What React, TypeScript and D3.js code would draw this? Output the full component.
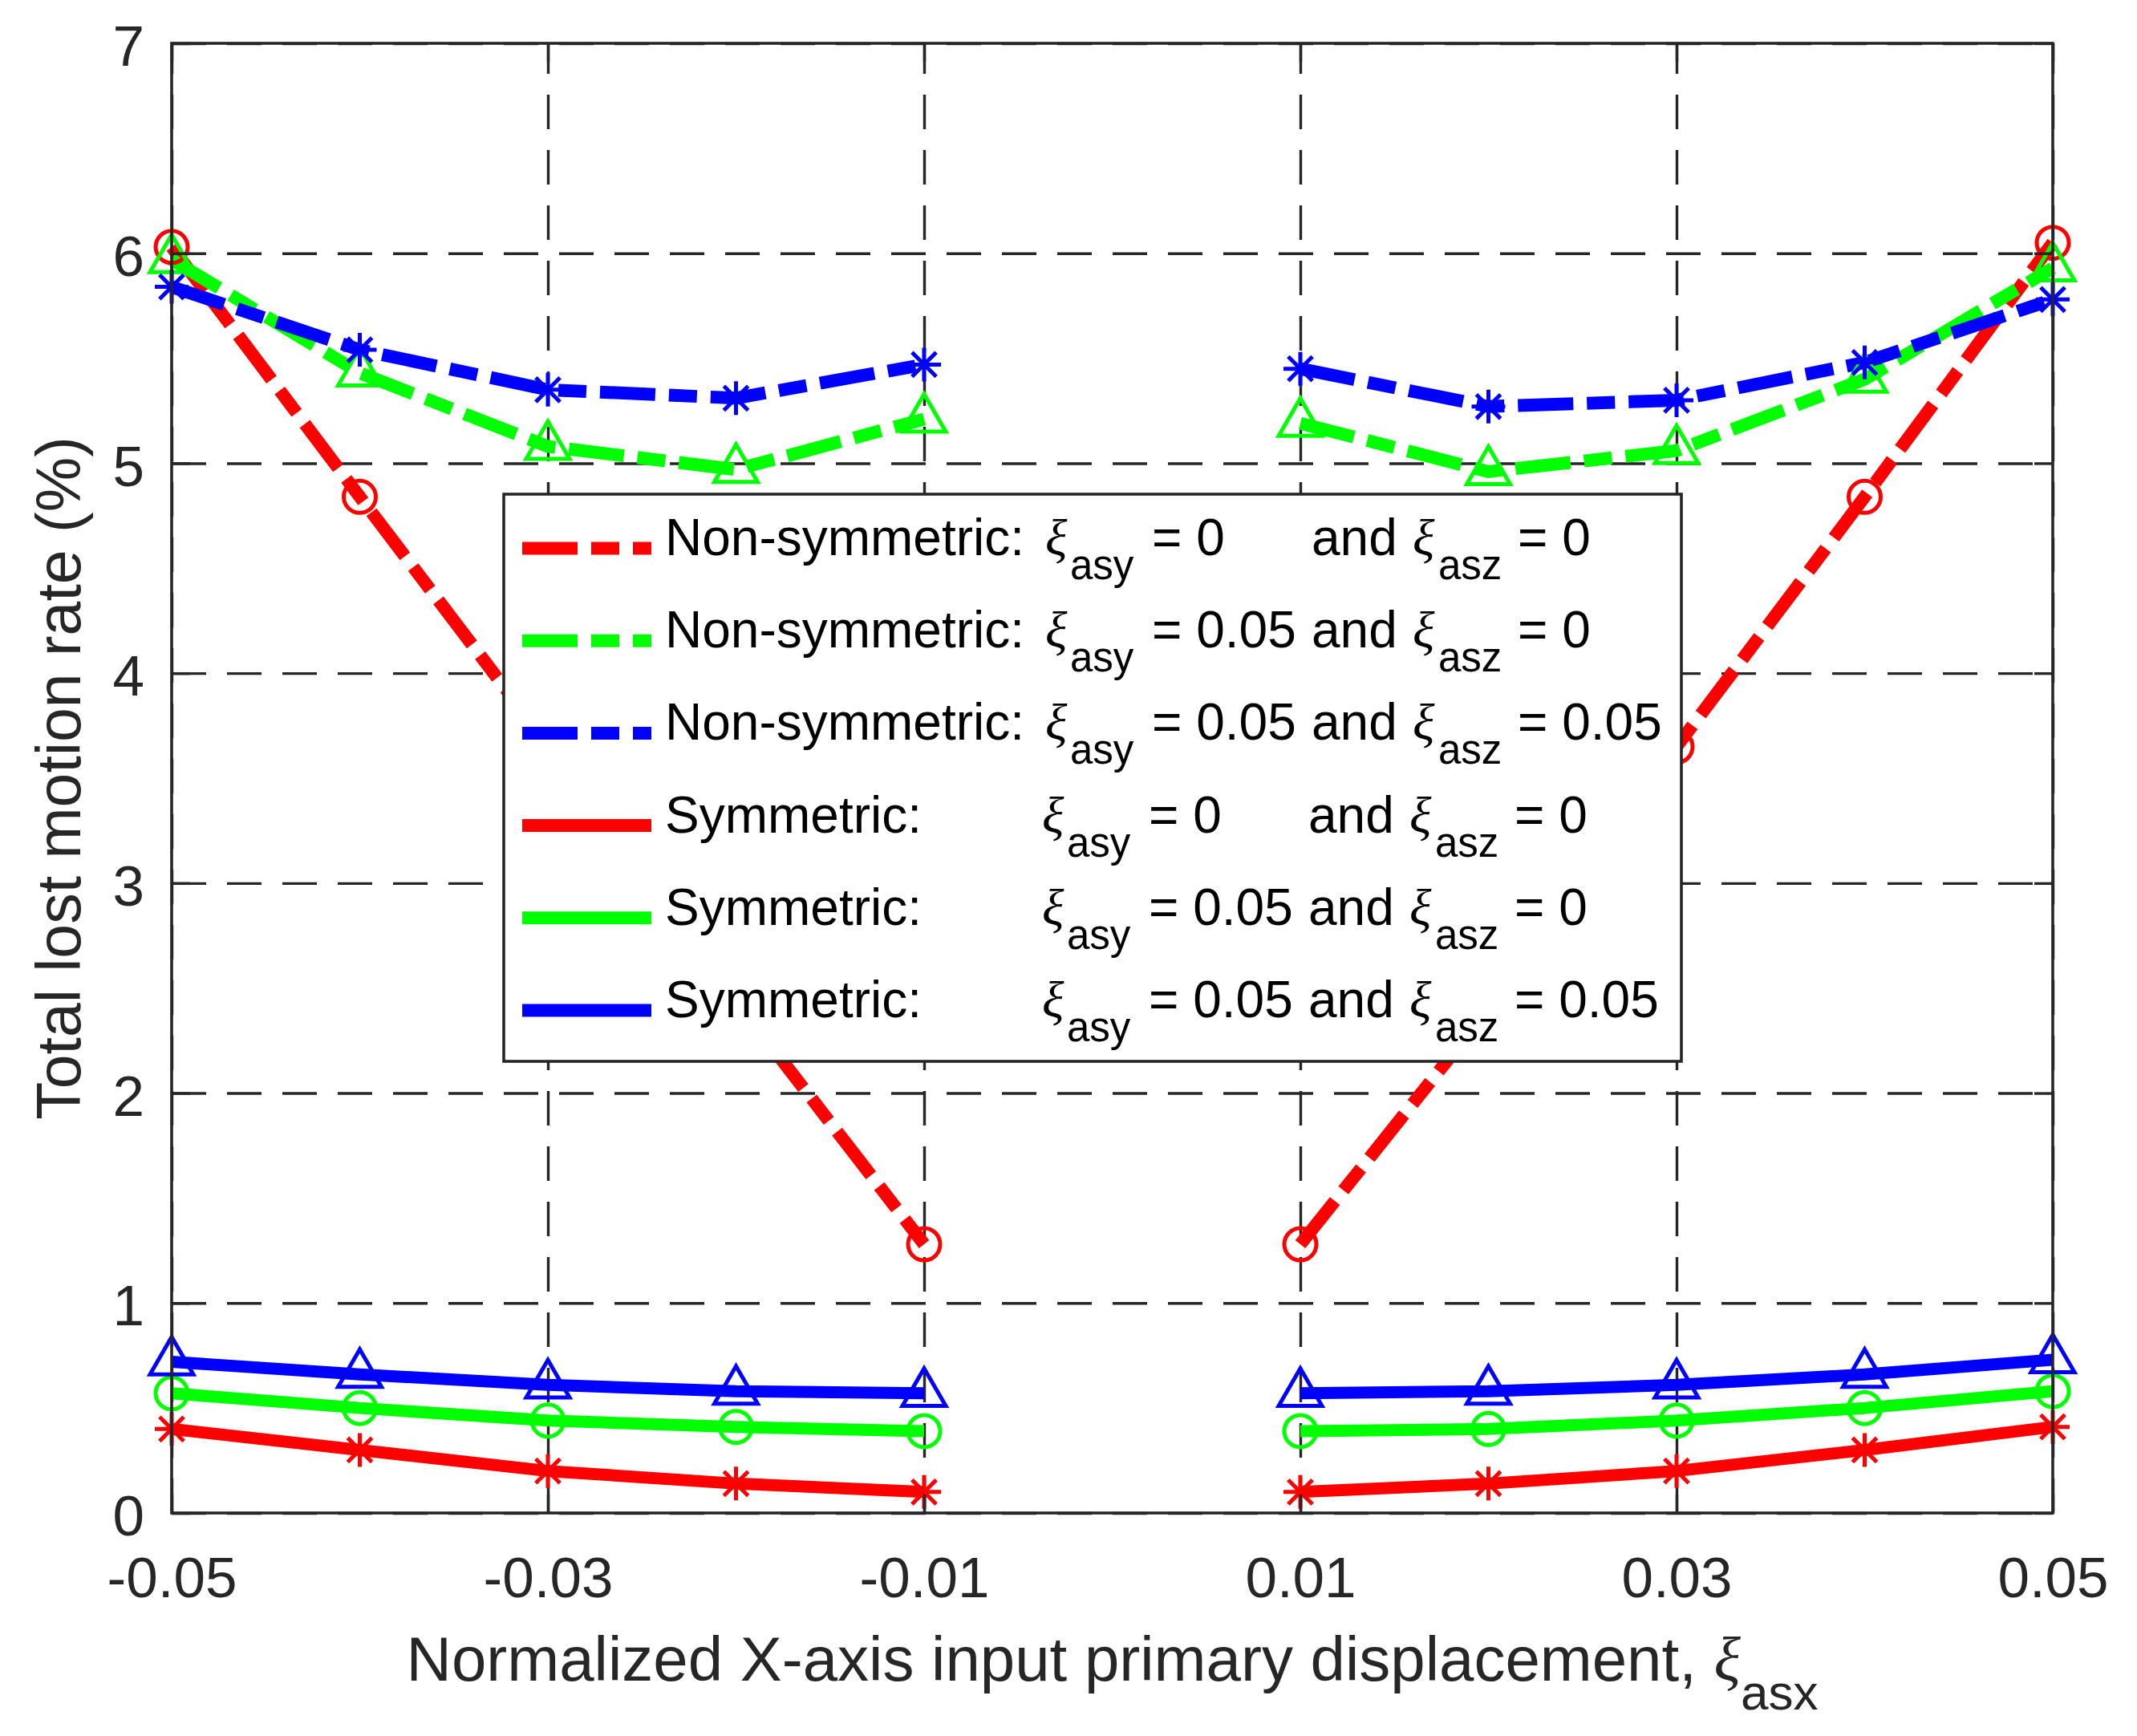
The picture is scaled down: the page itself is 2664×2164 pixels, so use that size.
import * as d3 from "d3";
import { useEffect, useRef } from "react";

// ---- data ----
const xValues = [-0.05, -0.04, -0.03, -0.02, -0.01, 0.01, 0.02, 0.03, 0.04, 0.05];
const xTicks = [-0.05, -0.03, -0.01, 0.01, 0.03, 0.05];
const yTicks = [0, 1, 2, 3, 4, 5, 6, 7];

const nonSymRed = [6.03, 4.84, 3.66, 2.44, 1.28, 1.28, 2.4, 3.65, 4.84, 6.05];
const nonSymGreen = [5.97, 5.43, 5.08, 4.97, 5.21, 5.19, 4.96, 5.06, 5.4, 5.93];
const nonSymBlue = [5.84, 5.54, 5.35, 5.31, 5.47, 5.45, 5.27, 5.3, 5.48, 5.78];
const symRed = [0.4, 0.3, 0.2, 0.14, 0.1, 0.1, 0.14, 0.2, 0.3, 0.41];
const symGreen = [0.57, 0.5, 0.44, 0.41, 0.39, 0.39, 0.4, 0.44, 0.5, 0.58];
const symBlue = [0.72, 0.66, 0.61, 0.58, 0.57, 0.57, 0.58, 0.61, 0.66, 0.73];

const legendPrefixes = ["Non-symmetric:", "Non-symmetric:", "Non-symmetric:", "Symmetric:", "Symmetric:", "Symmetric:"];
const asyValues = ["0", "0.05", "0.05", "0", "0.05", "0.05"];
const aszValues = ["0", "0", "0.05", "0", "0", "0.05"];

const yLabel = "Total lost motion rate (%)";
const xLabel = "Normalized X-axis input primary displacement, ";

// styles per series (same order as legend)
const seriesStyle = [
  { values: nonSymRed, color: "#ff0000", dashed: true, marker: "circle" },
  { values: nonSymGreen, color: "#00ff00", dashed: true, marker: "triangle" },
  { values: nonSymBlue, color: "#0000ff", dashed: true, marker: "star" },
  { values: symRed, color: "#ff0000", dashed: false, marker: "star" },
  { values: symGreen, color: "#00ff00", dashed: false, marker: "circle" },
  { values: symBlue, color: "#0000ff", dashed: false, marker: "triangle" },
];

const SANS = "'Liberation Sans', Arial, Helvetica, sans-serif";
const SERIF = "'Liberation Serif', 'Times New Roman', serif";
const AX = "#262626";
const DASH = "69 17 35 17";

export default function App() {
  const svgRef = useRef<SVGSVGElement | null>(null);
  useEffect(() => {
    if (!svgRef.current) return;
    drawChart(svgRef.current);
  }, []);
  return (
    <div style={{ position: "absolute", left: 0, top: 0 }}>
      <svg ref={svgRef} width={2664} height={2164} style={{ display: "block" }} />
    </div>
  );
}

function drawChart(svgElement: SVGSVGElement) {
  const svg = d3.select(svgElement);
  svg.selectAll("*").remove();

  const W = 2664;
  const H = 2164;
  const margin = { top: 54, right: 105, bottom: 278, left: 214 };
  const width = W - margin.left - margin.right;
  const height = H - margin.top - margin.bottom;

  svg.append("rect").attr("width", W).attr("height", H).attr("fill", "#fff");

  const chart = svg.append("g").attr("transform", `translate(${margin.left},${margin.top})`);

  const x = d3.scaleLinear().domain([-0.05, 0.05]).range([0, width]);
  const y = d3.scaleLinear().domain([0, 7]).range([height, 0]);

  // --- grid ---
  const xGrid = chart
    .append("g")
    .attr("transform", `translate(0,${height})`)
    .call(d3.axisBottom(x).tickValues(xTicks).tickSize(-height).tickFormat(() => ""));
  xGrid.select(".domain").remove();
  xGrid.selectAll("line").attr("stroke", AX).attr("stroke-width", 3.4).attr("stroke-dasharray", "43 26");

  const yGrid = chart
    .append("g")
    .call(d3.axisLeft(y).tickValues(yTicks).tickSize(-width).tickFormat(() => ""));
  yGrid.select(".domain").remove();
  yGrid.selectAll("line").attr("stroke", AX).attr("stroke-width", 3.4).attr("stroke-dasharray", "43 26");

  // --- lines ---
  const line = d3
    .line<[number, number]>()
    .x((d) => x(d[0]))
    .y((d) => y(d[1]));

  seriesStyle.forEach((s) => {
    const pts: [number, number][] = xValues.map((xv, i) => [xv, s.values[i]]);
    const halves = [pts.filter((p) => p[0] < 0), pts.filter((p) => p[0] > 0)];
    halves.forEach((h) => {
      chart
        .append("path")
        .attr("d", line(h)!)
        .attr("fill", "none")
        .attr("stroke", s.color)
        .attr("stroke-width", s.dashed ? 16 : 15)
        .attr("stroke-linejoin", "round")
        .attr("stroke-dasharray", s.dashed ? DASH : null);
    });
  });

  // --- markers ---
  seriesStyle.forEach((s) => {
    const g = chart.append("g").attr("fill", "none").attr("stroke", s.color).attr("stroke-width", 5);
    xValues.forEach((xv, i) => {
      const cx = x(xv);
      const cy = y(s.values[i]);
      if (s.marker === "circle") {
        g.append("circle").attr("cx", cx).attr("cy", cy).attr("r", 20);
      } else if (s.marker === "triangle") {
        const side = 54;
        const ht = (side * Math.sqrt(3)) / 2;
        g.append("path").attr(
          "d",
          `M${cx},${cy - (2 * ht) / 3}L${cx - side / 2},${cy + ht / 3}L${cx + side / 2},${cy + ht / 3}Z`
        );
      } else {
        const r = 21;
        const d = r * 0.72;
        g.append("path")
          .attr(
            "d",
            `M${cx},${cy - r}V${cy + r}M${cx - r},${cy}H${cx + r}` +
              `M${cx - d},${cy - d}L${cx + d},${cy + d}M${cx - d},${cy + d}L${cx + d},${cy - d}`
          );
      }
    });
  });

  // --- axes (inward ticks on all sides) ---
  const tick = 23;
  const fmt = (d: d3.NumberValue) => String(d);

  const xAxis = chart
    .append("g")
    .attr("transform", `translate(0,${height})`)
    .call(d3.axisBottom(x).tickValues(xTicks).tickSize(-tick).tickFormat(fmt));
  xAxis.select(".domain").remove();
  xAxis.selectAll("line").attr("stroke", AX).attr("stroke-width", 3.4);
  xAxis
    .selectAll("text")
    .attr("y", 105)
    .attr("dy", 0)
    .style("font-size", "71px")
    .style("font-family", SANS)
    .style("fill", AX);

  const xTop = chart
    .append("g")
    .call(d3.axisTop(x).tickValues(xTicks).tickSize(-tick).tickFormat(() => ""));
  xTop.select(".domain").remove();
  xTop.selectAll("line").attr("stroke", AX).attr("stroke-width", 3.4);

  const yAxis = chart.append("g").call(d3.axisLeft(y).tickValues(yTicks).tickSize(-tick).tickFormat(fmt));
  yAxis.select(".domain").remove();
  yAxis.selectAll("line").attr("stroke", AX).attr("stroke-width", 3.4);
  yAxis
    .selectAll("text")
    .attr("x", -34)
    .attr("dy", "0.39em")
    .style("font-size", "71px")
    .style("font-family", SANS)
    .style("fill", AX);

  const yRight = chart
    .append("g")
    .attr("transform", `translate(${width},0)`)
    .call(d3.axisRight(y).tickValues(yTicks).tickSize(-tick).tickFormat(() => ""));
  yRight.select(".domain").remove();
  yRight.selectAll("line").attr("stroke", AX).attr("stroke-width", 3.4);

  // box
  chart
    .append("rect")
    .attr("width", width)
    .attr("height", height)
    .attr("fill", "none")
    .attr("stroke", AX)
    .attr("stroke-width", 3.6);

  // --- axis labels ---
  const xl = svg
    .append("text")
    .attr("x", margin.left + width / 2)
    .attr("y", 2095)
    .attr("text-anchor", "middle")
    .style("font-family", SANS)
    .style("font-size", "78px")
    .style("fill", AX)
    .attr("xml:space", "preserve");
  xl.append("tspan").text(xLabel);
  xl.append("tspan").style("font-family", SERIF).style("font-style", "italic").text("ξ");
  xl.append("tspan").attr("dy", 36).style("font-size", "62px").text("asx");

  svg
    .append("text")
    .attr("transform", `translate(100,${margin.top + height / 2}) rotate(-90)`)
    .attr("text-anchor", "middle")
    .style("font-family", SANS)
    .style("font-size", "77px")
    .style("fill", AX)
    .text(yLabel);

  // --- legend ---
  const legend = svg.append("g");
  legend
    .append("rect")
    .attr("x", 628)
    .attr("y", 616)
    .attr("width", 2096 - 628)
    .attr("height", 1323 - 616)
    .attr("fill", "#fff")
    .attr("stroke", AX)
    .attr("stroke-width", 3.6);

  const rowY = (i: number) => 692 + i * 115.2;
  const txt = (xp: number, yp: number, s: string, size = 64, serif = false) =>
    legend
      .append("text")
      .attr("x", xp)
      .attr("y", yp)
      .style("font-family", serif ? SERIF : SANS)
      .style("font-style", serif ? "italic" : "normal")
      .style("font-size", `${size}px`)
      .style("fill", "#000")
      .text(s);

  seriesStyle.forEach((s, i) => {
    const by = rowY(i);
    legend
      .append("line")
      .attr("x1", 651)
      .attr("x2", 812)
      .attr("y1", by - 8.5)
      .attr("y2", by - 8.5)
      .attr("stroke", s.color)
      .attr("stroke-width", 16)
      .attr("stroke-dasharray", s.dashed ? DASH : null);

    const off = s.dashed ? 0 : -4;
    txt(829, by, legendPrefixes[i]);
    txt(1303 + off, by, "ξ", 64, true);
    txt(1334 + off, by + 30, "asy", 51);
    txt(1436 + off, by, `= ${asyValues[i]}`);
    txt(1635 + off, by, "and");
    txt(1761 + off, by, "ξ", 64, true);
    txt(1793 + off, by + 30, "asz", 51);
    txt(1892 + off, by, `= ${aszValues[i]}`);
  });
}
